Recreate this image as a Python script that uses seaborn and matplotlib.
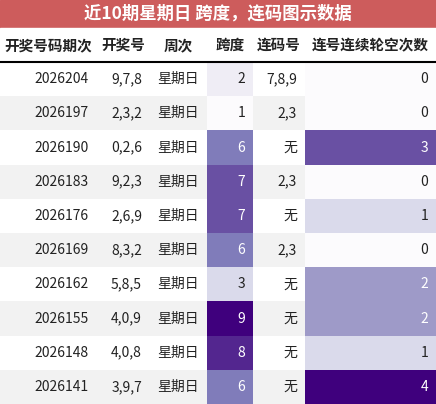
import matplotlib
matplotlib.use("Agg")
import matplotlib.pyplot as plt
import seaborn as sns
import numpy as np

sns.set_theme(style="white")
plt.rcParams['font.family'] = ['Noto Sans CJK SC', 'DejaVu Sans']

title = "近10期星期日 跨度，连码图示数据"
headers = ["开奖号码期次", "开奖号", "周次", "跨度", "连码号", "连号连续轮空次数"]
periods = ["2026204", "2026197", "2026190", "2026183", "2026176", "2026169", "2026162", "2026155", "2026148", "2026141"]
numbers = ["9,7,8", "2,3,2", "0,2,6", "9,2,3", "2,6,9", "8,3,2", "5,8,5", "4,0,9", "4,0,8", "3,9,7"]
weekday = ["星期日"] * 10
spans = [2, 1, 6, 7, 7, 6, 3, 9, 8, 6]
consec = ["7,8,9", "2,3", "无", "2,3", "无", "2,3", "无", "无", "无", "无"]
misses = [0, 0, 3, 0, 1, 0, 2, 2, 1, 4]

cmap = sns.color_palette("Purples", as_cmap=True)
W, H = 436, 404
fig = plt.figure(figsize=(W/100, H/100), dpi=100)
ax = fig.add_axes([0, 0, 1, 1])
ax.set_xlim(0, W); ax.set_ylim(H, 0); ax.axis("off")

cols = [0, 97, 150, 207, 253, 305, 436]
title_h, head_bottom = 28, 62
row_h = (H - head_bottom) / 10

ax.add_patch(plt.Rectangle((0, 0), W, title_h, color="#cd5c5c"))
ax.text(W/2, title_h/2, title, color="white", fontsize=12.5, fontweight="bold", ha="center", va="center")
ax.add_patch(plt.Rectangle((0, title_h), W, head_bottom-title_h, color="white"))
for i, h in enumerate(headers):
    ax.text((cols[i]+cols[i+1])/2, (title_h+head_bottom)/2, h, fontsize=10.5, fontweight="bold", ha="center", va="center", color="#222222")
ax.plot([0, W], [head_bottom, head_bottom], color="black", lw=1.5)

for r in range(10):
    y0 = head_bottom + r*row_h
    yc = y0 + row_h/2
    base = "#ffffff" if r % 2 == 0 else "#f2f2f2"
    vals = [periods[r], numbers[r], weekday[r], str(spans[r]), consec[r], str(misses[r])]
    for c in range(6):
        color = base
        tcol = "#222222"
        if c == 3:
            v = (spans[r]-1)/8
            color = cmap(v)
            if v > 0.55: tcol = "white"
        elif c == 5:
            v = misses[r]/4
            color = cmap(v)
            if v > 0.45: tcol = "white"
        ax.add_patch(plt.Rectangle((cols[c], y0), cols[c+1]-cols[c], row_h, color=color, lw=0))
        ax.text(cols[c+1]-8, yc, vals[c], fontsize=10, ha="right", va="center", color=tcol)

fig.savefig("out.png", dpi=100)
